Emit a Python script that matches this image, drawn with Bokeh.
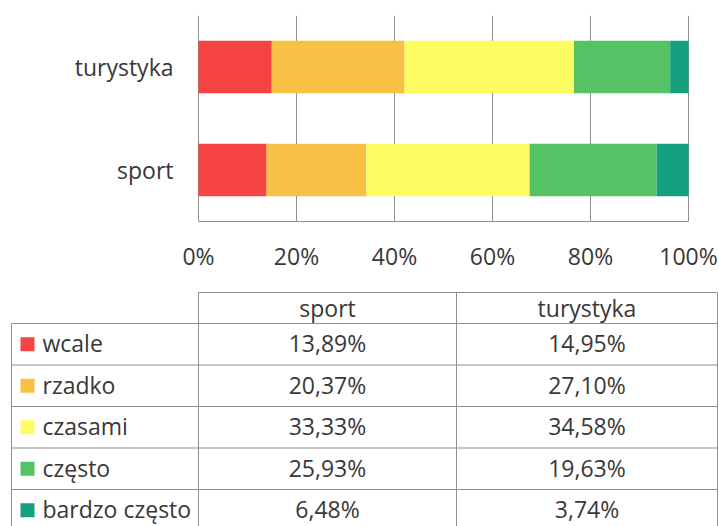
from bokeh.plotting import figure
from bokeh.models import FactorRange, Range1d, FixedTicker, PrintfTickFormatter, ColumnDataSource
from bokeh.layouts import column
from bokeh.core.properties import value
from bokeh.embed import file_html
from bokeh.resources import INLINE

# ---- data ----
categories = ["sport", "turystyka"]
levels = ["wcale", "rzadko", "czasami", "często", "bardzo często"]
sport = [13.89, 20.37, 33.33, 25.93, 6.48]
turystyka = [14.95, 27.10, 34.58, 19.63, 3.74]
x_ticks = [0, 20, 40, 60, 80, 100]

# ---- style ----
colors = ["#F64343", "#F8C146", "#FDFD62", "#55C266", "#14A07F"]
FONT = "Open Sans"
TXT = "#383838"
GRID = "#8f8f8f"
FS = "23px"
W = 719
PX_PER_PCT = 4.9
X0_PX = 198  # pixel where 0% sits

# ---- chart ----
data = {"cat": categories}
for i, lv in enumerate(levels):
    data[lv] = [sport[i], turystyka[i]]
src = ColumnDataSource(data)

p1 = figure(width=W, height=280, y_range=FactorRange(factors=categories, range_padding=0),
            x_range=Range1d(-X0_PX / PX_PER_PCT, (W - X0_PX) / PX_PER_PCT),
            output_backend="svg", toolbar_location=None, y_axis_location=None,
            min_border_left=0, min_border_right=0, min_border_top=15, min_border_bottom=59)
p1.outline_line_color = None
p1.hbar_stack(levels, y="cat", height=0.51, color=colors, line_color=None, source=src)

p1.xaxis.ticker = FixedTicker(ticks=x_ticks)
p1.xaxis.bounds = (0, 100)
p1.xaxis.formatter = PrintfTickFormatter(format="%d%%")
p1.xaxis.major_tick_line_color = None
p1.xaxis.minor_tick_line_color = None
p1.xaxis.axis_line_color = GRID
p1.xaxis.major_label_standoff = 12
p1.xaxis.major_label_text_font = FONT
p1.xaxis.major_label_text_font_size = FS
p1.xaxis.major_label_text_color = TXT

p1.ygrid.grid_line_color = None
p1.xgrid.ticker = FixedTicker(ticks=x_ticks)
p1.xgrid.grid_line_color = GRID
p1.xgrid.grid_line_alpha = 1.0

# category labels left of the 0% line
p1.text(x=[-5.1] * len(categories), y=categories, text=categories, text_align="right",
        text_baseline="middle", text_font=value(FONT), text_font_size=FS, text_color=TXT)

# ---- table (layout in figure pixels) ----
H2 = 246
p2 = figure(width=W, height=H2, x_range=Range1d(0, W), y_range=Range1d(H2, 0),
            output_backend="svg", toolbar_location=None, min_border=0,
            x_axis_location=None, y_axis_location=None)
p2.outline_line_color = None
p2.grid.grid_line_color = None

col_edges = [11, 198, 456, 717]
head_top = 12
head_bot = 43
row_h = 41.5
n = len(levels)
row_edges = [head_bot + i * row_h for i in range(n + 1)]

x0s, y0s, x1s, y1s = [], [], [], []
x0s.append(col_edges[1]); x1s.append(col_edges[3]); y0s.append(head_top); y1s.append(head_top)
for yy in row_edges:
    x0s.append(col_edges[0]); x1s.append(col_edges[3]); y0s.append(yy); y1s.append(yy)
x0s.append(col_edges[0]); x1s.append(col_edges[0]); y0s.append(head_bot); y1s.append(row_edges[-1])
for cx in col_edges[1:]:
    x0s.append(cx); x1s.append(cx); y0s.append(head_top); y1s.append(row_edges[-1])
p2.segment(x0=x0s, y0=y0s, x1=x1s, y1=y1s, line_color=GRID, line_width=1)

c_sport = (col_edges[1] + col_edges[2]) / 2
c_tur = (col_edges[2] + col_edges[3]) / 2
p2.text(x=[c_sport, c_tur], y=[(head_top + head_bot) / 2] * 2, text=categories,
        text_align="center", text_baseline="middle", text_font=value(FONT),
        text_font_size=FS, text_color=TXT)

row_c = [head_bot + (i + 0.5) * row_h - 1 for i in range(n)]
fmt = lambda v: f"{v:.2f}".replace(".", ",") + "%"
p2.text(x=[c_sport] * n, y=row_c, text=[fmt(v) for v in sport],
        text_align="center", text_baseline="middle", text_font=value(FONT),
        text_font_size=FS, text_color=TXT)
p2.text(x=[c_tur] * n, y=row_c, text=[fmt(v) for v in turystyka],
        text_align="center", text_baseline="middle", text_font=value(FONT),
        text_font_size=FS, text_color=TXT)
p2.rect(x=[27] * n, y=[c + 1 for c in row_c], width=14, height=14, fill_color=colors, line_color=None)
p2.text(x=[42] * n, y=row_c, text=levels, text_align="left", text_baseline="middle",
        text_font=value(FONT), text_font_size=FS, text_color=TXT)

layout = column(p1, p2, spacing=0)
open("out.html", "w").write(file_html(layout, INLINE))
